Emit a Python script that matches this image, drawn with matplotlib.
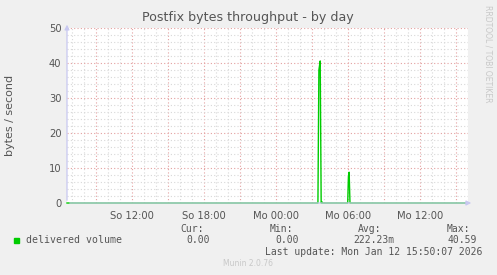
import matplotlib.pyplot as plt
from matplotlib.ticker import MultipleLocator

# Daten (Stunden ab So 00:00)
hours = [6.6, 27.50, 27.58, 27.69, 27.77, 27.82, 27.87, 29.98, 30.04, 30.10, 30.17, 40.0]
volume = [0, 0, 38.0, 40.59, 0, 0.4, 0, 0, 7.5, 8.8, 0, 0]

tick_pos = [9, 12, 15, 18, 21, 24, 27, 30, 33, 36, 39]
tick_labels = ['', 'So 12:00', '', 'So 18:00', '', 'Mo 00:00', '', 'Mo 06:00', '', 'Mo 12:00', '']

legend_head = ['Cur:', 'Min:', 'Avg:', 'Max:']
legend_vals = ['0.00', '0.00', '222.23m', '40.59']

W, H = 497, 275
fig = plt.figure(figsize=(W / 100, H / 100), dpi=100, facecolor='#f0f0f0')
ax = fig.add_axes([67 / W, 1 - 203 / H, (468 - 67) / W, (203 - 28) / H])
ax.set_facecolor('white')

ax.set_xlim(6.6, 40.0)
ax.set_ylim(0, 50)

# Gitter
ax.yaxis.set_major_locator(MultipleLocator(10))
ax.yaxis.set_minor_locator(MultipleLocator(2))
ax.set_xticks(tick_pos)
ax.set_xticklabels(tick_labels)
ax.xaxis.set_minor_locator(MultipleLocator(1))
ax.grid(which='minor', color='#d8d8d8', linestyle=(0, (1, 2)), linewidth=0.8)
ax.grid(which='major', color='#e4a0a0', linestyle=(0, (1, 2)), linewidth=0.8)
ax.set_axisbelow(True)
ax.tick_params(which='both', length=0, labelsize=7.2, colors='#555555')
ax.tick_params(axis='y', pad=4)
ax.tick_params(axis='x', pad=6)
for s in ax.spines.values():
    s.set_visible(False)

# Achsen mit Pfeilen
ax.annotate('', xy=(0, 1.035), xytext=(0, 0), xycoords='axes fraction',
            arrowprops=dict(arrowstyle='-|>', color='#c8c8f0', lw=0.9, mutation_scale=7),
            annotation_clip=False)
ax.annotate('', xy=(1.015, 0), xytext=(0, 0), xycoords='axes fraction',
            arrowprops=dict(arrowstyle='-|>', color='#c8c8f0', lw=0.9, mutation_scale=7),
            annotation_clip=False)

ax.plot(hours, volume, color='#00cc00', linewidth=1.0, clip_on=False)

def px(x, y):
    return x / W, 1 - y / H

fig.text(*px(248, 18), 'Postfix bytes throughput - by day', ha='center', va='center',
         fontsize=9.1, color='#555555')
fig.text(*px(10, 115), 'bytes / second', rotation=90, ha='center', va='center',
         fontsize=8, color='#555555')
fig.text(*px(488, 5), 'RRDTOOL / TOBI OETIKER', rotation=270, ha='center', va='top',
         fontsize=5.5, color='#c8c8c8')

mono = 'DejaVu Sans Mono'
head_x = [204, 293, 381, 470]
val_x = [210, 299, 394, 477]
for x, t in zip(head_x, legend_head):
    fig.text(*px(x, 229), t, ha='right', va='center', fontsize=7, family=mono, color='#555555')
for x, t in zip(val_x, legend_vals):
    fig.text(*px(x, 240), t, ha='right', va='center', fontsize=7, family=mono, color='#555555')
fig.patches.append(plt.Rectangle(px(14, 243), 5 / W, 5 / H, transform=fig.transFigure,
                                 color='#00cc00', figure=fig))
fig.text(*px(26, 240), 'delivered volume', ha='left', va='center', fontsize=7.1, family=mono,
         color='#555555')
fig.text(*px(482, 252), 'Last update: Mon Jan 12 15:50:07 2026', ha='right', va='center',
         fontsize=7, family=mono, color='#555555')
fig.text(*px(248, 264), 'Munin 2.0.76', ha='center', va='center', fontsize=5.5, color='#c8c8c8')

fig.savefig('out.png', dpi=100, facecolor=fig.get_facecolor())
